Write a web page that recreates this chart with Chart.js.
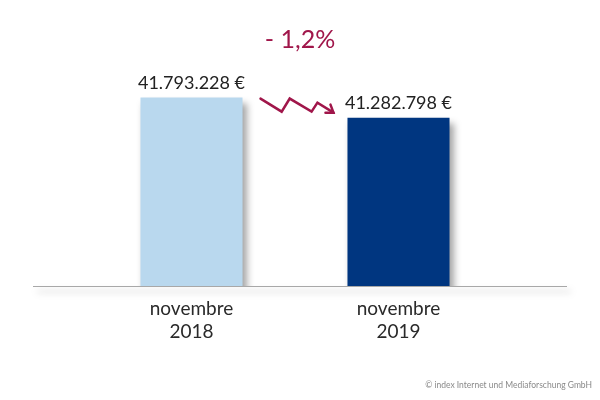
<!DOCTYPE html>
<html>
<head>
<meta charset="utf-8">
<script src="https://cdn.jsdelivr.net/npm/chart.js@4/dist/chart.umd.min.js"></script>
<style>
html,body{margin:0;padding:0;background:#fff;}
#wrap{width:600px;height:400px;position:relative;}
</style>
</head>
<body>
<div id="wrap"><canvas id="c" width="600" height="400"></canvas></div>
<script>
const categories = [["novembre", "2018"], ["novembre", "2019"]];
const values = [41793228, 41282798];
const valueLabels = ["41.793.228 €", "41.282.798 €"];
const barColors = ["#B9D8EE", "#003680"];
const changeLabel = "- 1,2%";
const footerText = "© index Internet und Mediaforschung GmbH";

const ACCENT = "#A0164A";
const FONT = "Lato, 'Open Sans', sans-serif";

const shadowPlugin = {
  id: "barShadow",
  beforeDatasetsDraw(chart) {
    const ctx = chart.ctx;
    ctx.save();
    ctx.shadowColor = "rgba(0,0,0,0.36)";
    ctx.shadowBlur = 7;
    ctx.shadowOffsetX = 4;
    ctx.shadowOffsetY = 5;
  },
  afterDatasetsDraw(chart) {
    chart.ctx.restore();
  }
};

const decorPlugin = {
  id: "decor",
  beforeDatasetsDraw(chart) {
    const ctx = chart.ctx, a = chart.chartArea;
    ctx.save();
    ctx.strokeStyle = "#A8A8A8";
    ctx.lineWidth = 1;
    ctx.beginPath();
    ctx.moveTo(33, Math.round(a.bottom) + 0.5);
    ctx.lineTo(567, Math.round(a.bottom) + 0.5);
    ctx.stroke();
    ctx.restore();
  },
  afterDatasetsDraw(chart) {
    const ctx = chart.ctx;
    const bars = chart.getDatasetMeta(0).data;
    ctx.save();
    // value labels
    ctx.font = "18px " + FONT;
    ctx.fillStyle = "#222";
    ctx.textAlign = "center";
    ctx.textBaseline = "alphabetic";
    bars.forEach((b, i) => {
      ctx.fillText(valueLabels[i], b.x, b.y - 9);
    });
    // change label
    ctx.font = "25px " + FONT;
    ctx.fillStyle = ACCENT;
    ctx.fillText(changeLabel, chart.width / 2, 48);
    // zigzag arrow between bars
    const b0 = bars[0], b1 = bars[1];
    const x0 = b0.x + b0.width / 2 + 18, y0 = b0.y + 1;
    const x1 = b1.x - b1.width / 2 - 14, y1 = b1.y - 5;
    const w = x1 - x0, h = y1 - y0;
    const pts = [
      [0, 0], [0.29, 0.93], [0.40, 0.0], [0.70, 0.93], [0.78, 0.29], [1, 1]
    ].map(p => [x0 + p[0] * w, y0 + p[1] * h]);
    ctx.strokeStyle = ACCENT;
    ctx.lineWidth = 2.5;
    ctx.lineJoin = "miter";
    ctx.lineCap = "round";
    ctx.beginPath();
    pts.forEach((p, i) => i ? ctx.lineTo(p[0], p[1]) : ctx.moveTo(p[0], p[1]));
    ctx.stroke();
    // arrowhead
    const tip = pts[pts.length - 1];
    ctx.beginPath();
    ctx.moveTo(tip[0] - 8, tip[1]);
    ctx.lineTo(tip[0], tip[1]);
    ctx.lineTo(tip[0] - 3, tip[1] - 8);
    ctx.stroke();
    // footer
    ctx.font = "8.5px " + FONT;
    ctx.fillStyle = "#8a8a8a";
    ctx.textAlign = "right";
    ctx.fillText(footerText, 592, 388);
    ctx.restore();
  }
};

new Chart(document.getElementById("c"), {
  type: "bar",
  data: {
    labels: categories,
    datasets: [{
      data: values,
      backgroundColor: barColors,
      borderWidth: 0,
      categoryPercentage: 1,
      barPercentage: 0.493
    }]
  },
  options: {
    responsive: false,
    animation: false,
    layout: { padding: { top: 58, left: 88, right: 98, bottom: 0 } },
    plugins: { legend: { display: false }, tooltip: { enabled: false } },
    scales: {
      y: {
        display: false,
        min: 37000000,
        max: 42800000
      },
      x: {
        grid: { display: false, drawTicks: false },
        border: { display: false },
        ticks: {
          color: "#2a2a2a",
          padding: 11,
          font: { family: FONT, size: 19, lineHeight: 1.22 }
        },
        afterFit(s) { s.height = 114; }
      }
    }
  },
  plugins: [shadowPlugin, decorPlugin]
});
</script>
</body>
</html>
